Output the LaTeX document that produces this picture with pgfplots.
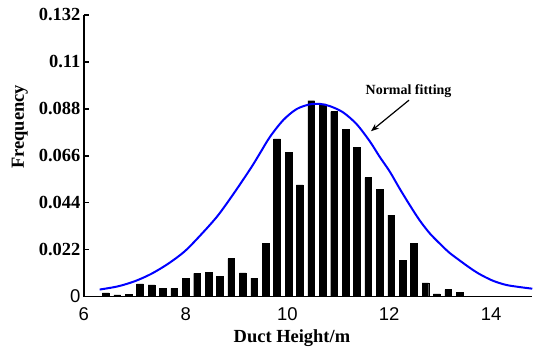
\documentclass[border=0pt]{standalone}
\usepackage{fontspec}
\setmainfont{Liberation Serif}
\setsansfont{Liberation Sans}
\usepackage{pgfplots}
\pgfplotsset{compat=1.18}
\usetikzlibrary{arrows.meta}
\pgfplotstableread{
x y
6.430 0.0017
6.654 0.0008
6.879 0.0010
7.103 0.0060
7.327 0.0055
7.552 0.0038
7.776 0.0038
8.000 0.0085
8.224 0.0109
8.449 0.0114
8.673 0.0095
8.897 0.0178
9.122 0.0111
9.346 0.0087
9.570 0.0251
9.795 0.0739
10.019 0.0675
10.243 0.0524
10.467 0.0918
10.692 0.0903
10.916 0.0867
11.140 0.0784
11.365 0.0700
11.589 0.0558
11.813 0.0504
12.038 0.0382
12.262 0.0170
12.486 0.0251
12.710 0.0064
12.935 0.0013
13.159 0.0033
13.383 0.0020
}\bars
\pgfplotstableread{
x y
6.31 0.0033
6.67 0.0048
7.00 0.0072
7.32 0.0106
7.65 0.0153
7.98 0.0212
8.30 0.0290
8.63 0.0379
8.95 0.0485
9.28 0.0602
9.46 0.0672
9.66 0.0750
9.92 0.0828
10.18 0.0879
10.44 0.0901
10.64 0.0903
10.83 0.0893
11.09 0.0864
11.36 0.0808
11.62 0.0727
11.81 0.0656
12.01 0.0586
12.20 0.0508
12.40 0.0430
12.59 0.0360
12.79 0.0298
12.99 0.0249
13.18 0.0206
13.38 0.0170
13.57 0.0137
13.77 0.0106
14.03 0.0075
14.29 0.0055
14.55 0.0045
14.81 0.0037
}\fit
\begin{document}
\begin{tikzpicture}
\begin{axis}[
  width=449pt, height=282pt, scale only axis,
  xmin=6, xmax=14.81, ymin=0, ymax=0.132,
  axis x line*=bottom, axis y line*=left,
  axis line style={line width=1.5pt},
  xtick={6,8,10,12,14},
  xticklabels={6,8,10,12,14},
  xticklabel style={font=\fontsize{18.5}{20}\selectfont\sffamily, yshift=-8pt},
  ytick={0,0.022,0.044,0.066,0.088,0.11,0.132},
  yticklabels={{\sffamily\mdseries 0},0.022,0.044,0.066,0.088,0.11,0.132},
  yticklabel style={font=\fontsize{18.5}{20}\selectfont\bfseries},
  tick align=inside,
  major tick length=5pt,
  xtick style={draw=none},
  ytick style={line width=1.5pt, black},
  xlabel={Duct Height/m}, ylabel={Frequency},
  xlabel style={font=\fontsize{18.5}{20}\selectfont\bfseries, at={(axis description cs:0.464,0)}, anchor=center, yshift=-42pt},
  ylabel style={font=\fontsize{18.5}{20}\selectfont\bfseries, at={(axis description cs:-0.143,0.603)}, anchor=center},
  clip=true,
]
\addplot[ybar, bar width=0.131, fill=black, draw=black] table[x=x,y=y] {\bars};
\addplot[smooth, blue, line width=2pt, no marks] table[x=x,y=y] {\fit};
\node[font=\fontsize{14}{16}\selectfont\bfseries] at (axis cs:12.38,0.0961) {Normal fitting};
\draw[-{Stealth[length=8pt,width=6pt]}, line width=1.2pt] (axis cs:12.39,0.0921) -- (axis cs:11.64,0.0775);
\end{axis}
\path (current axis.south west) ++(-84pt,-53pt);
\path (current axis.north east) ++(0pt,15pt);
\end{tikzpicture}
\end{document}
